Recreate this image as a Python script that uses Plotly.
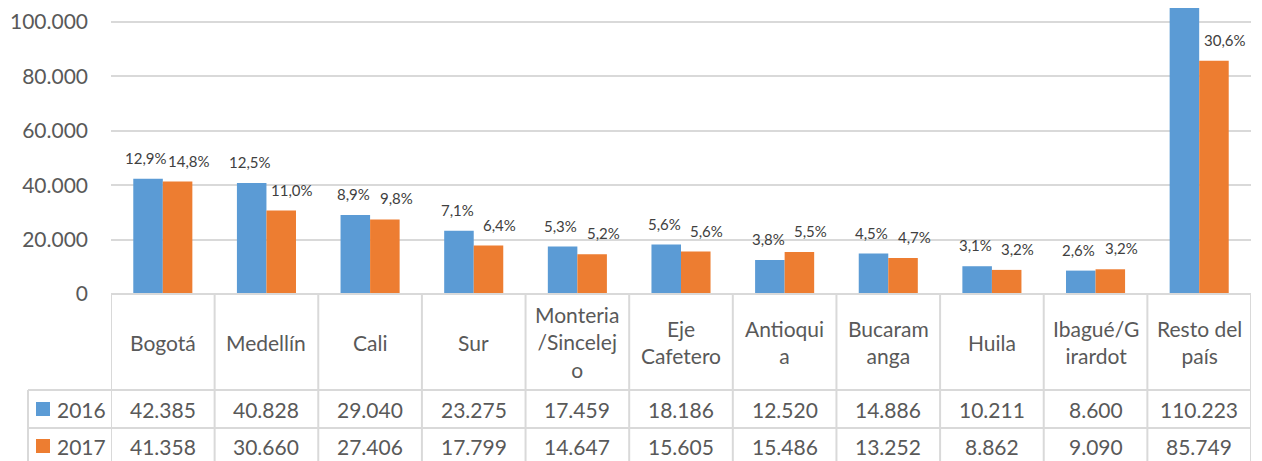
import plotly.graph_objects as go

# page offset: the browser body margin shifts the figure by 8px
OFF = 8
W, H = 1262 - OFF, 461 - OFF

categories = ["Bogotá", "Medellín", "Cali", "Sur", "Monteria/Sincelejo", "Eje Cafetero",
              "Antioquia", "Bucaramanga", "Huila", "Ibagué/Girardot", "Resto del país"]
header_labels = ["Bogotá", "Medellín", "Cali", "Sur", "Monteria<br>/Sincelej<br>o", "Eje<br>Cafetero",
                 "Antioqui<br>a", "Bucaram<br>anga", "Huila", "Ibagué/G<br>irardot", "Resto del<br>país"]
series_names = ["2016", "2017"]
values_2016 = [42385, 40828, 29040, 23275, 17459, 18186, 12520, 14886, 10211, 8600, 110223]
values_2017 = [41358, 30660, 27406, 17799, 14647, 15605, 15486, 13252, 8862, 9090, 85749]
pct_2016 = [12.9, 12.5, 8.9, 7.1, 5.3, 5.6, 3.8, 4.5, 3.1, 2.6, None]
pct_2017 = [14.8, 11.0, 9.8, 6.4, 5.2, 5.6, 5.5, 4.7, 3.2, 3.2, 30.6]
y_ticks = [0, 20000, 40000, 60000, 80000, 100000]

BLUE = "#5b9bd5"
ORANGE = "#ed7d31"
GRID = "#d9d9d9"
TXT = "#595959"
FONT = "Lato"

# pixel geometry (page coordinates)
PL, PR, PB, PT = 111, 1251, 294, OFF
ROW1, ROW2, ROWEND = 390, 428, 466
LEGX = 28


def px(x):
    return (x - OFF) / W


def py(y):
    return (H - (y - OFF)) / H


n = len(categories)
xs = list(range(n))

fig = go.Figure()
fig.add_trace(go.Bar(x=xs, y=values_2016, name=series_names[0], marker_color=BLUE,
                     marker_line_width=0, cliponaxis=True))
fig.add_trace(go.Bar(x=xs, y=values_2017, name=series_names[1], marker_color=ORANGE,
                     marker_line_width=0, cliponaxis=True))

ymax = 100000 * (PB - PT) / (294 - 22)

annotations = []
shapes = []


def fmt_int(v):
    return f"{v:,}".replace(",", ".")


def fmt_pct(v):
    return f"{v:.1f}".replace(".", ",") + "%"


# percent labels
for i in range(n):
    for vals, pcts, off in ((values_2016, pct_2016, -0.16), (values_2017, pct_2017, 0.25)):
        if pcts[i] is None:
            continue
        annotations.append(dict(x=i + off, y=vals[i], xref="x", yref="y", text=fmt_pct(pcts[i]),
                                xanchor="center", yanchor="middle",
                                showarrow=False, yshift=21, font=dict(family=FONT, size=15, color="#404040")))

cell_font = dict(family=FONT, size=21, color=TXT)
for i in range(n):
    annotations.append(dict(x=i, y=py((PB + ROW1) / 2), xref="x", yref="paper", text=header_labels[i],
                            xanchor="center", yanchor="middle", showarrow=False, font=cell_font))
    annotations.append(dict(x=i, y=py((ROW1 + ROW2) / 2), xref="x", yref="paper", text=fmt_int(values_2016[i]),
                            xanchor="center", yanchor="middle", showarrow=False, font=cell_font))
    annotations.append(dict(x=i, y=py((ROW2 + ROWEND) / 2 - 1), xref="x", yref="paper", text=fmt_int(values_2017[i]),
                            xanchor="center", yanchor="middle", showarrow=False, font=cell_font))

# legend keys in table
for name, color, (r0, r1) in ((series_names[0], BLUE, (ROW1, ROW2)), (series_names[1], ORANGE, (ROW2, ROWEND))):
    cy = (r0 + r1) / 2 - (0 if name == series_names[0] else 1)
    shapes.append(dict(type="rect", xref="paper", yref="paper", x0=px(36), x1=px(50),
                       y0=py(cy - 7), y1=py(cy + 7), fillcolor=color, line_width=0))
    annotations.append(dict(x=px(55), y=py(cy), xref="paper", yref="paper", text=name,
                            xanchor="left", yanchor="middle", showarrow=False, font=cell_font))

# table grid lines
line = dict(color=GRID, width=2)
for k in range(n + 1):
    shapes.append(dict(type="line", xref="x", yref="paper", x0=k - 0.5, x1=k - 0.5,
                       y0=py(PB), y1=py(ROWEND), line=line))
shapes.append(dict(type="line", xref="paper", yref="paper", x0=px(LEGX), x1=px(LEGX),
                   y0=py(ROW1), y1=py(ROWEND), line=line))
for yy in (ROW1, ROW2):
    shapes.append(dict(type="line", xref="paper", yref="paper", x0=px(LEGX), x1=px(PR),
                       y0=py(yy), y1=py(yy), line=line))
shapes.append(dict(type="line", xref="paper", yref="paper", x0=px(PL), x1=px(PR),
                   y0=py(PB), y1=py(PB), line=line))

fig.update_layout(
    width=W, height=H,
    margin=dict(l=0, r=0, t=0, b=0, autoexpand=False),
    paper_bgcolor="white", plot_bgcolor="white",
    separators=",.",
    barmode="group", bargap=0.43, bargroupgap=0,
    showlegend=False,
    xaxis=dict(domain=[px(PL), px(PR)], range=[-0.5, n - 0.5], showticklabels=False,
               showgrid=False, zeroline=False, showline=False, ticks="", automargin=False),
    yaxis=dict(domain=[py(PB), py(PT)], range=[0, ymax], tickvals=y_ticks, tickformat=",.0f",
               showgrid=True, gridcolor=GRID, gridwidth=2, zeroline=False, showline=False,
               ticks="", ticklabelstandoff=22, automargin=False,
               tickfont=dict(family=FONT, size=21, color=TXT)),
    annotations=annotations,
    shapes=shapes,
)

fig.write_html("out.html")
